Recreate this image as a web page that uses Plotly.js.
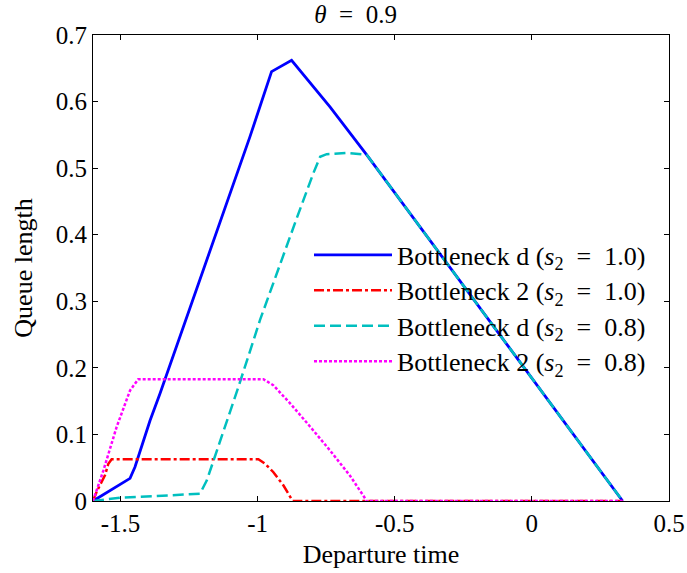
<!DOCTYPE html>
<html>
<head>
<meta charset="utf-8">
<script src="https://cdn.plot.ly/plotly-3.0.1.min.js"></script>
<style>html,body{margin:0;padding:0;background:#fff;}#chart{width:687px;height:573px;}</style>
</head>
<body>
<div id="chart"></div>
<script>
// Bottleneck d, s2 = 1.0
const dS1x = [-1.6, -1.465, -1.447, -1.417, -1.392, -1.356, -1.313, -1.161, -1.064, -1.028, -0.949, -0.876, -0.736, -0.602, 0.331];
const dS1y = [0, 0.034, 0.051, 0.091, 0.121, 0.161, 0.2115, 0.392, 0.507, 0.547, 0.645, 0.662, 0.592, 0.520, 0];
// Bottleneck 2, s2 = 1.0
const b2S1x = [-1.6, -1.587, -1.556, -1.544, -1.532, -0.997, -0.973, -0.943, -0.906, -0.882, -0.872, 0.331];
const b2S1y = [0, 0.0135, 0.039, 0.056, 0.0627, 0.0627, 0.056, 0.0436, 0.0236, 0.006, 0, 0];
// Bottleneck d, s2 = 0.8
const dS08x = [-1.6, -1.5, -1.319, -1.21, -1.185, -1.07, -0.991, -0.918, -0.857, -0.797, -0.772, -0.748, -0.675, -0.602, 0.331];
const dS08y = [0, 0.005, 0.0086, 0.011, 0.031, 0.171, 0.272, 0.357, 0.425, 0.492, 0.517, 0.521, 0.523, 0.520, 0];
// Bottleneck 2, s2 = 0.8
const b2S08x = [-1.6, -1.562, -1.514, -1.465, -1.435, -0.979, -0.943, -0.882, -0.809, -0.736, -0.663, -0.608, -0.605, 0.331];
const b2S08y = [0, 0.046, 0.111, 0.166, 0.183, 0.183, 0.174, 0.147, 0.112, 0.076, 0.038, 0.004, 0, 0];

const seriesNames = [
  'Bottleneck d (<i>s</i><sub>2</sub>  =  1.0)',
  'Bottleneck 2 (<i>s</i><sub>2</sub>  =  1.0)',
  'Bottleneck d (<i>s</i><sub>2</sub>  =  0.8)',
  'Bottleneck 2 (<i>s</i><sub>2</sub>  =  0.8)'
];
const titleText = '<i>θ</i>  =  0.9';
const xTitle = 'Departure time';
const yTitle = 'Queue length';
const xTickVals = [-1.5, -1, -0.5, 0, 0.5];
const xTickText = ['-1.5', '-1', '-0.5', '0', '0.5'];
const yTickVals = [0, 0.1, 0.2, 0.3, 0.4, 0.5, 0.6, 0.7];
const yTickText = ['0', '0.1', '0.2', '0.3', '0.4', '0.5', '0.6', '0.7'];

const FONT = 'Liberation Serif';
function f(size) { return {family: FONT, size: size, color: '#000000'}; }
function legendLabel(s) { return '<span style="font-size:26px">' + s + '</span>'; }

const traces = [
  {x: dS1x, y: dS1y, name: legendLabel(seriesNames[0]), legendgroup: 'a', mode: 'lines', line: {color: '#0000FF', width: 2.8}},
  {x: b2S1x, y: b2S1y, name: legendLabel(seriesNames[1]), legendgroup: 'b', mode: 'lines', line: {color: '#FF0000', width: 2.5, dash: '10px,3px,3px,3px'}},
  {x: dS08x, y: dS08y, name: legendLabel(seriesNames[2]), legendgroup: 'c', mode: 'lines', line: {color: '#00BFBF', width: 2.5, dash: '11px,5px'}},
  {x: b2S08x, y: b2S08y, name: legendLabel(seriesNames[3]), legendgroup: 'd', mode: 'lines', line: {color: '#FF00FF', width: 2.5, dash: '3px,2px'}}
];

function axis(extra) {
  return Object.assign({
    showline: true, linecolor: '#000000', linewidth: 1, mirror: 'ticks',
    ticks: 'inside', ticklen: 5, tickcolor: '#000000', tickwidth: 1,
    showgrid: false, zeroline: false,
    tickfont: f(25)
  }, extra);
}

const layout = {
  width: 687, height: 573,
  paper_bgcolor: '#ffffff', plot_bgcolor: '#ffffff',
  margin: {l: 93, r: 18, t: 35, b: 72},
  font: f(25),
  title: {
    text: titleText, font: f(25),
    x: 0.456, xref: 'paper', xanchor: 'center',
    y: 0.975, yref: 'container', yanchor: 'middle'
  },
  xaxis: axis({
    range: [-1.6, 0.5], tickmode: 'array', tickvals: xTickVals, ticktext: xTickText,
    title: {text: xTitle, font: f(26), standoff: 8}
  }),
  yaxis: axis({
    range: [0, 0.7], tickmode: 'array', tickvals: yTickVals, ticktext: yTickText,
    title: {text: yTitle, font: f(26), standoff: 15}
  }),
  showlegend: true,
  legend: {
    x: 0.375, xanchor: 'left', y: 0.577, yanchor: 'top',
    bgcolor: 'rgba(0,0,0,0)', borderwidth: 0,
    font: f(25),
    itemwidth: 78, tracegroupgap: 0, traceorder: 'grouped'
  }
};

Plotly.newPlot('chart', traces, layout, {displayModeBar: false, staticPlot: true});
</script>
</body>
</html>
